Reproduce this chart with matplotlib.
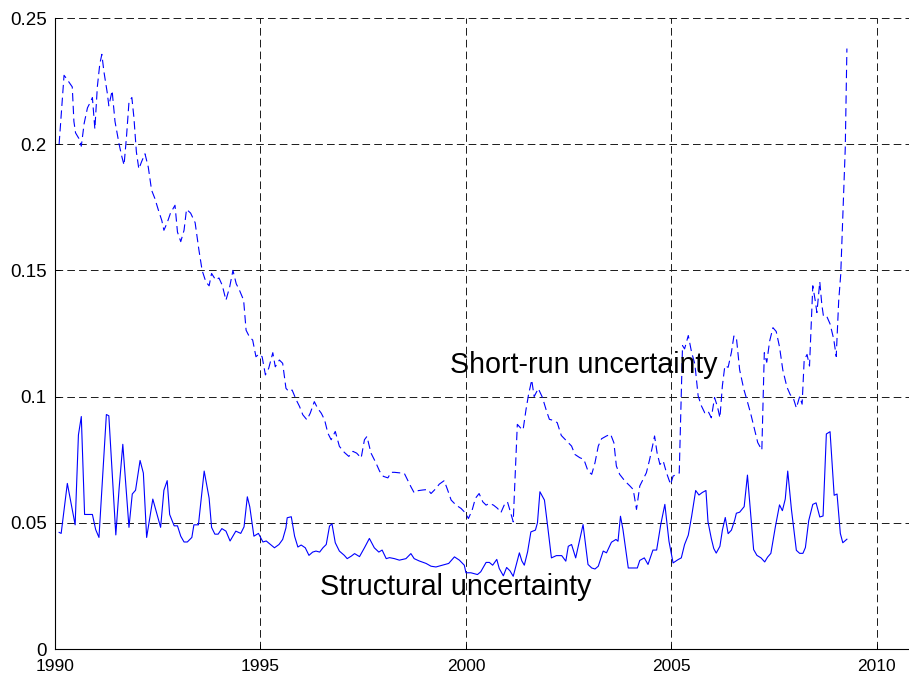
import matplotlib
matplotlib.use("Agg")
import matplotlib.pyplot as plt
from matplotlib.ticker import FixedLocator

plt.rcParams['font.family'] = ['Liberation Sans', 'DejaVu Sans']
plt.rcParams['lines.scale_dashes'] = False

struct_t = [1990.10, 1990.15, 1990.30, 1990.49, 1990.57, 1990.64, 1990.72, 1990.91, 1990.99, 1991.07,
            1991.25, 1991.31, 1991.48, 1991.56, 1991.65, 1991.80, 1991.88, 1991.96, 1992.07, 1992.15,
            1992.23, 1992.38, 1992.57, 1992.65, 1992.73, 1992.79, 1992.90, 1992.98, 1993.06, 1993.14,
            1993.22, 1993.33, 1993.38, 1993.49, 1993.63, 1993.75, 1993.81, 1993.89, 1993.97, 1994.06,
            1994.16, 1994.26, 1994.40, 1994.52, 1994.60, 1994.68, 1994.74, 1994.84, 1994.95, 1995.06,
            1995.14, 1995.22, 1995.34, 1995.45, 1995.54, 1995.62, 1995.65, 1995.75, 1995.83, 1995.91,
            1995.99, 1996.09, 1996.18, 1996.27, 1996.35, 1996.44, 1996.52, 1996.60, 1996.68, 1996.74,
            1996.82, 1996.92, 1997.04, 1997.11, 1997.21, 1997.29, 1997.41, 1997.53, 1997.65, 1997.77,
            1997.88, 1997.96, 1998.06, 1998.14, 1998.26, 1998.38, 1998.54, 1998.66, 1998.74, 1998.86,
            1999.03, 1999.15, 1999.27, 1999.43, 1999.58, 1999.72, 1999.84, 1999.96, 2000.00, 2000.12,
            2000.28, 2000.36, 2000.49, 2000.57, 2000.65, 2000.75, 2000.81, 2000.91, 2000.99, 2001.07,
            2001.15, 2001.22, 2001.30, 2001.36, 2001.42, 2001.50, 2001.58, 2001.69, 2001.74, 2001.80,
            2001.91, 2001.99, 2002.08, 2002.20, 2002.33, 2002.43, 2002.49, 2002.57, 2002.67, 2002.85,
            2002.97, 2003.06, 2003.14, 2003.22, 2003.34, 2003.42, 2003.54, 2003.65, 2003.70, 2003.76,
            2003.82, 2003.95, 2004.07, 2004.17, 2004.23, 2004.34, 2004.43, 2004.55, 2004.64, 2004.74,
            2004.84, 2004.94, 2005.04, 2005.16, 2005.24, 2005.32, 2005.41, 2005.49, 2005.59, 2005.67,
            2005.75, 2005.84, 2005.89, 2005.97, 2006.03, 2006.09, 2006.18, 2006.24, 2006.31, 2006.38,
            2006.46, 2006.54, 2006.58, 2006.66, 2006.77, 2006.85, 2006.93, 2007.00, 2007.08, 2007.18,
            2007.27, 2007.34, 2007.42, 2007.53, 2007.63, 2007.70, 2007.77, 2007.83, 2007.92, 2008.04,
            2008.12, 2008.20, 2008.26, 2008.34, 2008.44, 2008.52, 2008.61, 2008.69, 2008.77, 2008.86,
            2008.96, 2009.03, 2009.11, 2009.17, 2009.27]
struct_v = [0.0462, 0.0458, 0.0656, 0.0492, 0.0848, 0.0921, 0.0533, 0.0533, 0.0473, 0.0442,
            0.0929, 0.0924, 0.0452, 0.0636, 0.0811, 0.0482, 0.0614, 0.0629, 0.0747, 0.0697,
            0.0442, 0.0594, 0.0482, 0.0629, 0.0667, 0.0533, 0.0488, 0.0488, 0.0447, 0.0424,
            0.0424, 0.0442, 0.0492, 0.0492, 0.0705, 0.0598, 0.0482, 0.0455, 0.0455, 0.0477,
            0.0467, 0.0428, 0.0467, 0.0458, 0.0484, 0.0603, 0.0563, 0.0447, 0.0458, 0.0424,
            0.0428, 0.0417, 0.0401, 0.0414, 0.0434, 0.0480, 0.0520, 0.0524, 0.0447, 0.0404,
            0.0412, 0.0401, 0.0371, 0.0384, 0.0388, 0.0384, 0.0401, 0.0414, 0.0487, 0.0496,
            0.0421, 0.0388, 0.0371, 0.0358, 0.0368, 0.0378, 0.0366, 0.0401, 0.0438, 0.0401,
            0.0384, 0.0392, 0.0358, 0.0362, 0.0358, 0.0352, 0.0358, 0.0378, 0.0358, 0.0349,
            0.0339, 0.0328, 0.0325, 0.0332, 0.0339, 0.0365, 0.0352, 0.0332, 0.0302, 0.0302,
            0.0295, 0.0306, 0.0343, 0.0343, 0.0332, 0.0355, 0.0319, 0.0290, 0.0323, 0.0310,
            0.0288, 0.0332, 0.0381, 0.0349, 0.0332, 0.0385, 0.0464, 0.0471, 0.0500, 0.0623,
            0.0590, 0.0484, 0.0361, 0.0370, 0.0370, 0.0348, 0.0407, 0.0414, 0.0361, 0.0493,
            0.0335, 0.0321, 0.0317, 0.0328, 0.0388, 0.0381, 0.0423, 0.0434, 0.0427, 0.0526,
            0.0474, 0.0321, 0.0321, 0.0321, 0.0351, 0.0361, 0.0335, 0.0392, 0.0392, 0.0493,
            0.0573, 0.0427, 0.0341, 0.0354, 0.0361, 0.0414, 0.0451, 0.0524, 0.0628, 0.0610,
            0.0620, 0.0628, 0.0504, 0.0438, 0.0398, 0.0380, 0.0407, 0.0471, 0.0521, 0.0457,
            0.0471, 0.0511, 0.0538, 0.0542, 0.0564, 0.0689, 0.0530, 0.0394, 0.0371, 0.0361,
            0.0345, 0.0364, 0.0379, 0.0485, 0.0571, 0.0548, 0.0594, 0.0705, 0.0553, 0.0391,
            0.0379, 0.0379, 0.0402, 0.0508, 0.0573, 0.0579, 0.0523, 0.0527, 0.0852, 0.0861,
            0.0609, 0.0614, 0.0458, 0.0421, 0.0435]

short_t = [1990.10, 1990.22, 1990.28, 1990.42, 1990.46, 1990.50, 1990.58, 1990.64, 1990.71, 1990.79,
           1990.87, 1990.91, 1990.97, 1991.03, 1991.09, 1991.14, 1991.19, 1991.27, 1991.31, 1991.39,
           1991.46, 1991.56, 1991.62, 1991.68, 1991.74, 1991.80, 1991.87, 1991.92, 1991.98, 1992.04,
           1992.11, 1992.19, 1992.27, 1992.35, 1992.43, 1992.51, 1992.60, 1992.65, 1992.73, 1992.81,
           1992.92, 1992.98, 1993.06, 1993.14, 1993.20, 1993.30, 1993.41, 1993.50, 1993.58, 1993.67,
           1993.75, 1993.81, 1993.91, 1993.99, 1994.07, 1994.16, 1994.25, 1994.33, 1994.41, 1994.49,
           1994.59, 1994.65, 1994.73, 1994.81, 1994.89, 1994.96, 1995.04, 1995.12, 1995.20, 1995.30,
           1995.36, 1995.46, 1995.54, 1995.62, 1995.69, 1995.77, 1995.87, 1995.95, 1996.03, 1996.13,
           1996.21, 1996.31, 1996.39, 1996.48, 1996.56, 1996.64, 1996.72, 1996.82, 1996.92, 1997.04,
           1997.15, 1997.25, 1997.34, 1997.45, 1997.53, 1997.59, 1997.69, 1997.81, 1997.90, 1997.99,
           1998.10, 1998.18, 1998.26, 1998.38, 1998.50, 1998.58, 1998.66, 1998.74, 1998.82, 1998.95,
           1999.07, 1999.15, 1999.27, 1999.35, 1999.47, 1999.55, 1999.64, 1999.76, 1999.88, 1999.98,
           2000.06, 2000.15, 2000.23, 2000.32, 2000.41, 2000.49, 2000.57, 2000.67, 2000.77, 2000.85,
           2000.93, 2001.01, 2001.07, 2001.15, 2001.25, 2001.34, 2001.39, 2001.46, 2001.52, 2001.60,
           2001.66, 2001.76, 2001.86, 2001.96, 2002.03, 2002.12, 2002.22, 2002.32, 2002.45, 2002.57,
           2002.65, 2002.77, 2002.87, 2002.97, 2003.06, 2003.14, 2003.22, 2003.30, 2003.42, 2003.52,
           2003.60, 2003.66, 2003.74, 2003.87, 2003.99, 2004.07, 2004.15, 2004.23, 2004.31, 2004.39,
           2004.47, 2004.54, 2004.59, 2004.65, 2004.72, 2004.80, 2004.88, 2004.98, 2005.04, 2005.10,
           2005.19, 2005.27, 2005.32, 2005.41, 2005.49, 2005.57, 2005.65, 2005.73, 2005.81, 2005.89,
           2005.97, 2006.05, 2006.12, 2006.18, 2006.24, 2006.30, 2006.38, 2006.46, 2006.52, 2006.58,
           2006.66, 2006.76, 2006.84, 2006.93, 2007.02, 2007.10, 2007.20, 2007.26, 2007.32, 2007.39,
           2007.47, 2007.55, 2007.63, 2007.71, 2007.81, 2007.89, 2007.97, 2008.04, 2008.12, 2008.18,
           2008.23, 2008.30, 2008.36, 2008.44, 2008.50, 2008.54, 2008.61, 2008.66, 2008.70, 2008.78,
           2008.86, 2008.95, 2009.01, 2009.07, 2009.12, 2009.23, 2009.27]
short_v = [0.2000, 0.2273, 0.2260, 0.2227, 0.2090, 0.2045, 0.2023, 0.1992, 0.2083, 0.2144,
           0.2170, 0.2185, 0.2060, 0.2227, 0.2318, 0.2356, 0.2288, 0.2205, 0.2152, 0.2212,
           0.2090, 0.2000, 0.1955, 0.1917, 0.2030, 0.2167, 0.2185, 0.2106, 0.1970, 0.1902,
           0.1932, 0.1962, 0.1909, 0.1818, 0.1785, 0.1742, 0.1697, 0.1659, 0.1689, 0.1727,
           0.1758, 0.1652, 0.1614, 0.1659, 0.1742, 0.1727, 0.1689, 0.1583, 0.1500, 0.1455,
           0.1439, 0.1488, 0.1462, 0.1470, 0.1441, 0.1382, 0.1434, 0.1500, 0.1447, 0.1421,
           0.1382, 0.1263, 0.1237, 0.1224, 0.1158, 0.1168, 0.1158, 0.1086, 0.1112, 0.1174,
           0.1118, 0.1145, 0.1132, 0.1033, 0.1020, 0.1026, 0.0987, 0.0961, 0.0928, 0.0908,
           0.0934, 0.0980, 0.0954, 0.0934, 0.0908, 0.0855, 0.0829, 0.0862, 0.0803, 0.0779,
           0.0763, 0.0783, 0.0776, 0.0757, 0.0829, 0.0842, 0.0776, 0.0737, 0.0704, 0.0684,
           0.0678, 0.0700, 0.0700, 0.0698, 0.0696, 0.0669, 0.0643, 0.0619, 0.0627, 0.0630,
           0.0632, 0.0616, 0.0636, 0.0653, 0.0667, 0.0632, 0.0590, 0.0570, 0.0557, 0.0540,
           0.0517, 0.0550, 0.0597, 0.0616, 0.0583, 0.0570, 0.0577, 0.0570, 0.0557, 0.0540,
           0.0570, 0.0583, 0.0550, 0.0504, 0.0890, 0.0874, 0.0868, 0.0947, 0.1005, 0.1066,
           0.1000, 0.1032, 0.0997, 0.0943, 0.0910, 0.0906, 0.0897, 0.0846, 0.0824, 0.0804,
           0.0771, 0.0758, 0.0751, 0.0705, 0.0692, 0.0738, 0.0804, 0.0833, 0.0844, 0.0851,
           0.0817, 0.0725, 0.0692, 0.0665, 0.0646, 0.0632, 0.0553, 0.0646, 0.0672, 0.0698,
           0.0751, 0.0804, 0.0844, 0.0778, 0.0731, 0.0745, 0.0698, 0.0652, 0.0685, 0.0690,
           0.0697, 0.1202, 0.1189, 0.1242, 0.1176, 0.1129, 0.1003, 0.0963, 0.0936, 0.0943,
           0.0916, 0.0996, 0.0960, 0.0916, 0.1043, 0.1122, 0.1116, 0.1176, 0.1240, 0.1235,
           0.1106, 0.1030, 0.0985, 0.0932, 0.0871, 0.0818, 0.0788, 0.1174, 0.1136, 0.1220,
           0.1273, 0.1258, 0.1197, 0.1106, 0.1038, 0.1008, 0.0992, 0.0955, 0.1000, 0.0970,
           0.1144, 0.1167, 0.1121, 0.1439, 0.1379, 0.1333, 0.1455, 0.1364, 0.1318, 0.1318,
           0.1288, 0.1227, 0.1159, 0.1379, 0.1485, 0.1985, 0.2379]

x_ticks = [1990, 1995, 2000, 2005, 2010]
y_ticks = [0, 0.05, 0.1, 0.15, 0.2, 0.25]
y_tick_labels = ['0', '0.05', '0.1', '0.15', '0.2', '0.25']
label_short = 'Short-run uncertainty'
label_struct = 'Structural uncertainty'

W, H = 909, 682
fig = plt.figure(figsize=(W / 100, H / 100), dpi=100)
left_px, right_px, top_px, bottom_px = 55, 918, 18, 649
ax = fig.add_axes([left_px / W, (H - bottom_px) / H, (right_px - left_px) / W, (bottom_px - top_px) / H])

ax.plot(short_t, short_v, color=(0, 0, 1), lw=0.8, dashes=(6.0, 3.2))
ax.plot(struct_t, struct_v, color=(0, 0, 1), lw=0.8)

ax.set_xlim(1990, 2011)
ax.set_ylim(0, 0.25)
ax.xaxis.set_major_locator(FixedLocator(x_ticks))
ax.yaxis.set_major_locator(FixedLocator(y_ticks))
ax.set_yticklabels(y_tick_labels)
ax.grid(True, color='#1a1a1a', lw=0.7, dashes=(5.5, 3.0))
ax.set_axisbelow(True)

for s in ['top', 'right']:
    ax.spines[s].set_visible(False)
for s in ['left', 'bottom']:
    ax.spines[s].set_linewidth(0.8)
ax.tick_params(direction='in', length=3.5, width=0.7)
ax.tick_params(axis='x', pad=7)
ax.tick_params(axis='y', pad=6)
for lab in ax.get_xticklabels():
    lab.set_fontsize(12.5)
for lab in ax.get_yticklabels():
    lab.set_fontsize(13.5)

ax.text(1999.62, 0.1125, label_short, fontsize=20.6, va='center', ha='left')
ax.text(1996.45, 0.0246, label_struct, fontsize=20.7, va='center', ha='left')

fig.savefig('out.png', dpi=100)
